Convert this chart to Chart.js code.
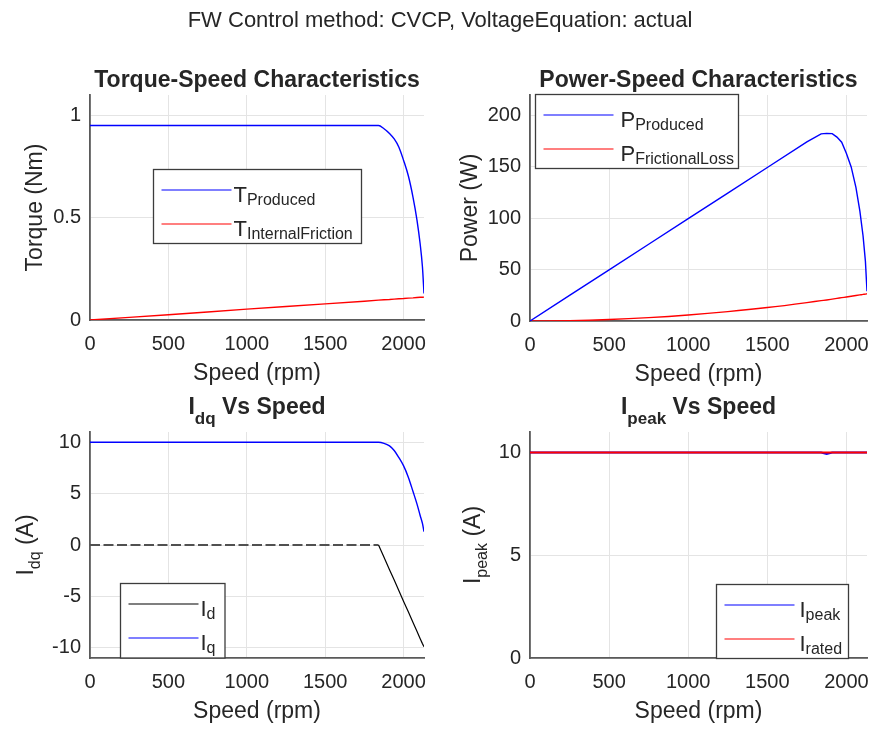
<!DOCTYPE html>
<html>
<head>
<meta charset="utf-8">
<script src="https://cdn.jsdelivr.net/npm/chart.js@4.4.1/dist/chart.umd.min.js"></script>
<style>
  body { margin: 0; background: #fff; }
  #fig { position: relative; width: 871px; height: 729px; }
  #fig canvas { position: absolute; left: 0; top: 0; }
</style>
</head>
<body>
<div id="fig">
  <canvas id="torqueChart" width="871" height="729"></canvas>
  <canvas id="powerChart" width="871" height="729"></canvas>
  <canvas id="idqChart" width="871" height="729"></canvas>
  <canvas id="ipeakChart" width="871" height="729"></canvas>
</div>
<script>
// --- data (speed in rpm) ---
const speed          = [0, 250, 500, 750, 1000, 1250, 1500, 1750, 1840, 1875, 1910, 1940, 1970, 2000, 2030, 2060, 2085, 2105, 2120, 2130];
const torqueProduced = [0.951, 0.951, 0.951, 0.951, 0.951, 0.951, 0.951, 0.951, 0.951, 0.935, 0.912, 0.885, 0.845, 0.78, 0.705, 0.60, 0.49, 0.375, 0.26, 0.13];
const torqueFriction = [0, 0.013, 0.026, 0.039, 0.053, 0.066, 0.079, 0.092, 0.097, 0.099, 0.100, 0.102, 0.104, 0.105, 0.107, 0.108, 0.110, 0.111, 0.111, 0.112];
const powerProduced  = [0, 24.9, 49.8, 74.7, 99.6, 124.5, 149.4, 174.3, 182.2, 182.6, 182.4, 179, 174, 163, 150, 130, 107, 83, 58, 29];
const powerFriction  = [0, 0.37, 1.46, 3.29, 5.84, 9.13, 13.1, 17.9, 19.8, 20.5, 21.3, 22.0, 22.7, 23.4, 24.1, 24.8, 25.4, 25.9, 26.2, 26.5];
const idCurrent      = [0, 0, 0, 0, 0, 0, 0, 0, 0, -1.2, -2.4, -3.4, -4.45, -5.5, -6.5, -7.55, -8.4, -9.1, -9.6, -9.9];
const iqCurrent      = [10, 10, 10, 10, 10, 10, 10, 10, 10, 9.9, 9.65, 9.2, 8.5, 7.7, 6.6, 5.2, 4.0, 2.9, 2.1, 1.3];
const iPeak          = [10, 10, 10, 10, 10, 10, 10, 10, 10, 9.93, 10, 10, 10, 10, 10, 10, 10, 10, 10, 10];
const iRated         = [10, 10, 10, 10, 10, 10, 10, 10, 10, 10, 10, 10, 10, 10, 10, 10, 10, 10, 10, 10];

const speedTicks  = [0, 500, 1000, 1500, 2000];
const torqueTicks = [0, 0.5, 1];
const powerTicks  = [0, 50, 100, 150, 200];
const idqTicks    = [-10, -5, 0, 5, 10];
const ipeakTicks  = [0, 5, 10];

const FONT = '"Liberation Sans", Arial, Helvetica, sans-serif';
const TXT = '#262626', AXIS = '#5a5a5a', GRID = '#e4e4e4';
const BLUE = '#0000ff', RED = '#ff0000', BLACK = '#000000';
const W = 871, H = 729, Y_W = 70, X_H = 40;

Chart.defaults.font.family = FONT;
Chart.defaults.color = TXT;

const pts = ys => speed.map((x, i) => ({ x, y: ys[i] }));

// "I_{dq} Vs Speed" / "T_Produced" -> runs of normal and subscript text
function parseTex(s) {
  const out = [];
  const re = /_\{([^}]*)\}|_([A-Za-z]+)/g;
  let last = 0, m;
  while ((m = re.exec(s))) {
    if (m.index > last) out.push({ t: s.slice(last, m.index), sub: false });
    out.push({ t: m[1] || m[2], sub: true });
    last = re.lastIndex;
  }
  if (last < s.length) out.push({ t: s.slice(last), sub: false });
  return out;
}

function drawTex(ctx, s, x, y, o) {
  const parts = parseTex(s);
  const fontFor = p => (o.bold ? 'bold ' : '') + (p.sub ? o.sub : o.size) + 'px ' + FONT;
  let total = 0;
  parts.forEach(p => { ctx.font = fontFor(p); p.w = ctx.measureText(p.t).width; total += p.w; });
  let cx = o.align === 'center' ? x - total / 2 : x;
  parts.forEach(p => {
    ctx.font = fontFor(p);
    ctx.fillText(p.t, cx, p.sub ? y + o.drop : y);
    cx += p.w;
  });
}

// titles, axis labels and the boxed legend, drawn around each axes
const figureText = {
  id: 'figureText',
  afterDraw(chart, args, o) {
    const ctx = chart.ctx;
    const a = chart.chartArea;
    const cx = (a.left + a.right) / 2, cy = (a.top + a.bottom) / 2;
    ctx.save();
    ctx.textBaseline = 'alphabetic';
    ctx.fillStyle = TXT;
    if (o.suptitle) drawTex(ctx, o.suptitle, 440, 27, { size: 22, align: 'center' });
    drawTex(ctx, o.title, cx, o.titleY, { size: 23, sub: 17, drop: 10, bold: true, align: 'center' });
    drawTex(ctx, 'Speed (rpm)', cx, a.bottom + 60, { size: 23, align: 'center' });
    ctx.save();
    ctx.translate(o.yLabelX, cy);
    ctx.rotate(-Math.PI / 2);
    drawTex(ctx, o.yLabel, 0, 0, { size: 23, sub: 16, drop: 7, align: 'center' });
    ctx.restore();

    const L = o.legend;
    ctx.fillStyle = '#fff';
    ctx.fillRect(L.x, L.y, L.w, L.h);
    ctx.strokeStyle = '#3c3c3c';
    ctx.lineWidth = 1.3;
    ctx.strokeRect(L.x, L.y, L.w, L.h);
    chart.data.datasets.forEach((ds, k) => {
      const ry = L.y + 20.5 + k * 34;
      ctx.strokeStyle = ds.borderColor;
      ctx.lineWidth = 1.2;
      ctx.beginPath();
      ctx.moveTo(L.x + 8, ry);
      ctx.lineTo(L.x + 78, ry);
      ctx.stroke();
      ctx.fillStyle = TXT;
      drawTex(ctx, ds.label, L.x + L.tx, ry + 12, { size: 22, sub: 16, drop: 3, align: 'left' });
    });
    ctx.restore();
  }
};

function panel(id, o) {
  const tickList = list => s => { s.ticks = list.map(v => ({ value: v })); };
  return new Chart(document.getElementById(id), {
    type: 'line',
    data: { datasets: o.datasets },
    options: {
      responsive: false,
      animation: false,
      events: [],
      layout: { padding: { left: o.area.l - Y_W, top: o.area.t, right: W - o.area.r, bottom: H - o.area.b - X_H } },
      elements: { point: { radius: 0 }, line: { borderWidth: 1.4, tension: 0 } },
      scales: {
        x: {
          type: 'linear', min: 0, max: 2130,
          // keep the plot box fixed: no extra room for the last tick label
          afterFit: s => { s.height = X_H; s.paddingLeft = 0; s.paddingRight = 0; },
          afterBuildTicks: tickList(speedTicks),
          ticks: { font: { size: 20 }, padding: 12, maxRotation: 0, autoSkip: false, callback: v => String(v) },
          grid: { color: GRID, drawTicks: false },
          border: { color: AXIS, width: 1.8 }
        },
        y: {
          type: 'linear', min: o.yMin, max: o.yMax,
          afterFit: s => { s.width = Y_W; s.paddingTop = 0; s.paddingBottom = 0; },
          afterBuildTicks: tickList(o.yTicks),
          ticks: { font: { size: 20 }, padding: 9, autoSkip: false, callback: v => String(v) },
          grid: { color: GRID, drawTicks: false },
          border: { color: AXIS, width: 1.8 }
        }
      },
      plugins: {
        legend: { display: false },
        tooltip: { enabled: false },
        figureText: o.text
      }
    },
    plugins: [figureText]
  });
}

// Torque-Speed
panel('torqueChart', {
  area: { l: 90, t: 95, r: 424, b: 320 },
  yMin: 0, yMax: 1.1, yTicks: torqueTicks,
  datasets: [
    { label: 'T_Produced', data: pts(torqueProduced), borderColor: BLUE, cubicInterpolationMode: 'monotone' },
    { label: 'T_InternalFriction', data: pts(torqueFriction), borderColor: RED }
  ],
  text: {
    suptitle: 'FW Control method: CVCP, VoltageEquation: actual',
    title: 'Torque-Speed Characteristics', titleY: 87,
    yLabel: 'Torque (Nm)', yLabelX: 42,
    legend: { x: 153.5, y: 169.5, w: 208, h: 74, tx: 80 }
  }
});

// Power-Speed
panel('powerChart', {
  area: { l: 530, t: 95, r: 867, b: 321 },
  yMin: 0, yMax: 220, yTicks: powerTicks,
  datasets: [
    { label: 'P_Produced', data: pts(powerProduced), borderColor: BLUE },
    { label: 'P_FrictionalLoss', data: pts(powerFriction), borderColor: RED, cubicInterpolationMode: 'monotone' }
  ],
  text: {
    title: 'Power-Speed Characteristics', titleY: 87,
    yLabel: 'Power (W)', yLabelX: 477,
    legend: { x: 535.5, y: 94.5, w: 203, h: 74, tx: 85 }
  }
});

// Idq vs speed; the flat part of Id is drawn dashed
panel('idqChart', {
  area: { l: 90, t: 432, r: 424, b: 658 },
  yMin: -11, yMax: 11, yTicks: idqTicks,
  datasets: [
    {
      label: 'I_d', data: pts(idCurrent), borderColor: BLACK, borderWidth: 1.2,
      segment: {
        borderDash: c => (c.p0.parsed.y === 0 && c.p1.parsed.y === 0 ? [10, 3.5] : undefined),
        borderColor: c => (c.p0.parsed.y === 0 && c.p1.parsed.y === 0 ? '#505050' : undefined),
        borderWidth: c => (c.p0.parsed.y === 0 && c.p1.parsed.y === 0 ? 2 : undefined)
      }
    },
    { label: 'I_q', data: pts(iqCurrent), borderColor: BLUE, cubicInterpolationMode: 'monotone' }
  ],
  text: {
    title: 'I_{dq} Vs Speed', titleY: 414,
    yLabel: 'I_{dq} (A)', yLabelX: 33,
    legend: { x: 120.5, y: 583.5, w: 104.5, h: 74.5, tx: 80 }
  }
});

// Ipeak vs speed; rated line drawn over the peak current
panel('ipeakChart', {
  area: { l: 530, t: 432, r: 867, b: 658 },
  yMin: 0, yMax: 11, yTicks: ipeakTicks,
  datasets: [
    { label: 'I_peak', data: pts(iPeak), borderColor: BLUE, borderWidth: 2, order: 1 },
    { label: 'I_rated', data: pts(iRated), borderColor: RED, borderWidth: 2, order: 0 }
  ],
  text: {
    title: 'I_{peak} Vs Speed', titleY: 414,
    yLabel: 'I_{peak} (A)', yLabelX: 480,
    legend: { x: 716.5, y: 584.5, w: 132, h: 74, tx: 83 }
  }
});
</script>
</body>
</html>
